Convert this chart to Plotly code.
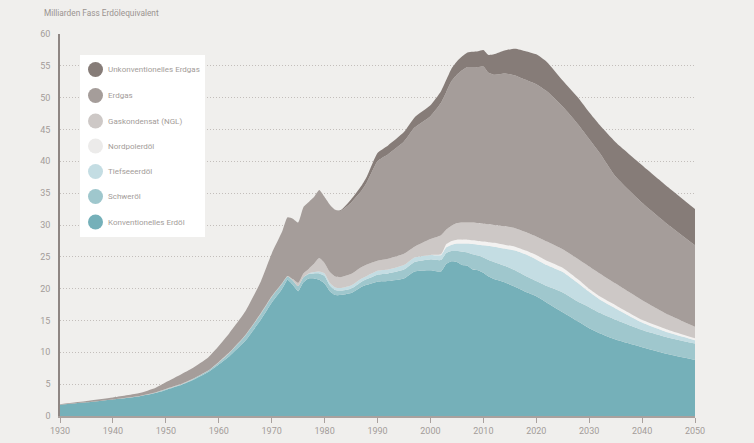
import plotly.graph_objects as go

years = [1930, 1935, 1940, 1945, 1948, 1950, 1953, 1955, 1958, 1960, 1962, 1965, 1968, 1970,
         1972, 1973, 1974, 1975, 1976, 1977, 1978, 1979, 1980, 1981, 1982, 1983, 1985, 1987,
         1988, 1990, 1992, 1995, 1997, 2000, 2002, 2003, 2004, 2005, 2006, 2007, 2008, 2009,
         2010, 2011, 2012, 2014, 2016, 2018, 2020, 2022, 2025, 2028, 2030, 2032, 2035, 2040,
         2045, 2050]

konventionelles_erdoel = [1.75, 2.15, 2.60, 3.10, 3.60, 4.10, 4.90, 5.60, 6.90, 8.10, 9.40, 11.80, 15.20, 17.80,
                          20.00, 21.40, 20.60, 19.60, 21.00, 21.60, 21.60, 21.40, 20.80, 19.60, 19.00, 19.00, 19.30, 20.30,
                          20.60, 21.10, 21.20, 21.60, 22.70, 22.90, 22.70, 23.90, 24.30, 24.20, 23.70, 23.60, 23.00, 22.90,
                          22.50, 21.90, 21.50, 21.00, 20.30, 19.50, 18.80, 17.80, 16.30, 14.80, 13.80, 13.00, 12.00, 10.80,
                          9.70, 8.80]
schweroel = [0, 0, 0, 0, 0.05, 0.10, 0.10, 0.15, 0.20, 0.30, 0.50, 0.80, 0.90, 0.90,
             0.80, 0.50, 0.70, 0.80, 0.80, 0.70, 0.80, 1.00, 1.20, 0.90, 0.80, 0.70, 0.70, 0.80,
             0.90, 1.10, 1.20, 1.40, 1.50, 1.70, 1.80, 1.70, 1.60, 1.70, 2.10, 2.10, 2.40, 2.30,
             2.40, 2.60, 2.70, 2.60, 2.60, 2.50, 2.40, 2.60, 3.10, 3.10, 3.30, 3.20, 3.10, 2.70,
             2.60, 2.60]
tiefseeoel = [0, 0, 0, 0, 0, 0, 0, 0, 0, 0, 0, 0, 0, 0,
              0, 0, 0, 0, 0, 0.10, 0.20, 0.30, 0.40, 0.40, 0.40, 0.40, 0.50, 0.50,
              0.50, 0.60, 0.60, 0.70, 0.70, 0.70, 0.80, 0.90, 1.00, 1.20, 1.30, 1.40, 1.60, 1.70,
              1.90, 2.20, 2.40, 2.70, 3.10, 3.40, 3.40, 3.30, 3.20, 2.90, 2.40, 2.10, 1.80, 1.20,
              0.80, 0.50]
nordpoloel = [0, 0, 0, 0, 0, 0, 0, 0, 0, 0, 0, 0, 0, 0,
              0, 0, 0, 0, 0, 0, 0, 0, 0, 0, 0, 0, 0, 0,
              0, 0, 0, 0, 0, 0, 0.10, 0.50, 0.60, 0.60, 0.60, 0.60, 0.60, 0.60,
              0.60, 0.60, 0.60, 0.60, 0.60, 0.60, 0.70, 0.70, 0.70, 0.60, 0.50, 0.50, 0.50, 0.40,
              0.40, 0.30]
gaskondensat = [0, 0, 0, 0.05, 0.05, 0.05, 0.05, 0.05, 0.05, 0.10, 0.10, 0.10, 0.10, 0.10,
                0.10, 0.10, 0.20, 0.50, 0.60, 0.70, 1.30, 2.10, 1.60, 1.70, 1.70, 1.70, 1.80, 1.80,
                1.80, 1.60, 1.70, 1.80, 1.70, 2.50, 3.00, 2.30, 2.40, 2.60, 2.70, 2.70, 2.80, 2.80,
                2.80, 2.80, 2.80, 2.90, 2.90, 2.90, 2.90, 3.00, 2.90, 3.20, 3.50, 3.60, 3.40, 3.10,
                2.40, 1.80]
erdgas = [0.10, 0.20, 0.30, 0.45, 0.70, 1.05, 1.55, 1.70, 2.05, 2.50, 3.00, 3.70, 5.00, 6.70,
          8.10, 9.20, 9.50, 9.50, 10.40, 10.50, 10.50, 10.70, 10.40, 10.60, 10.50, 10.40, 11.20, 12.00,
          12.90, 15.60, 16.40, 17.60, 18.70, 19.30, 20.80, 21.60, 22.70, 23.30, 23.90, 24.40, 24.40, 24.50,
          24.70, 23.80, 23.60, 24.00, 24.00, 23.90, 23.90, 23.60, 22.40, 21.10, 20.00, 18.90, 16.80, 15.30,
          14.10, 12.80]
unkonv_erdgas = [0, 0, 0, 0, 0, 0, 0, 0, 0, 0, 0, 0, 0, 0,
                 0, 0, 0, 0, 0, 0, 0, 0, 0, 0, 0, 0.10, 0.50, 0.80,
                 0.90, 1.30, 1.40, 1.50, 1.60, 1.70, 1.80, 1.90, 2.00, 2.10, 2.20, 2.30, 2.40, 2.50,
                 2.60, 2.80, 3.20, 3.60, 4.20, 4.50, 4.70, 4.60, 4.10, 4.20, 4.20, 4.40, 5.40, 5.90,
                 5.90, 5.70]

series_names = ["Konventionelles Erdöl", "Schweröl", "Tiefseeerdöl", "Nordpolerdöl",
                "Gaskondensat (NGL)", "Erdgas", "Unkonventionelles Erdgas"]
series_values = [konventionelles_erdoel, schweroel, tiefseeoel, nordpoloel,
                 gaskondensat, erdgas, unkonv_erdgas]
colors = ["#75b0b9", "#9fc7cd", "#c4dde3", "#f3f2f1", "#cdc8c6", "#a59d9a", "#867c78"]

x_ticks = [1930, 1940, 1950, 1960, 1970, 1980, 1990, 2000, 2010, 2020, 2030, 2040, 2050]
y_ticks = [0, 5, 10, 15, 20, 25, 30, 35, 40, 45, 50, 55, 60]

FONT = "Roboto"
TXT = "#a39c99"

fig = go.Figure()
for name, vals, col in zip(series_names, series_values, colors):
    fig.add_trace(go.Scatter(
        x=years, y=vals, name=name, stackgroup="one", mode="lines",
        line=dict(width=0, shape="spline", smoothing=0.5, color=col),
        fillcolor=col, showlegend=False, hoverinfo="x+y+name"))

# Legend drawn as a white box with round swatches
L_left, L_right = (80 - 60) / 635, (205 - 60) / 635
L_top, L_bottom = (416 - 55) / 382, (416 - 237) / 382
shapes = [dict(type="rect", xref="paper", yref="paper", x0=L_left, x1=L_right,
               y0=L_bottom, y1=L_top, fillcolor="white", line=dict(width=0), layer="above")]
annotations = []
legend_rows_px = [69.5, 95.5, 121, 146, 171.5, 196.5, 222]
for i, (name, col) in enumerate(zip(reversed(series_names), reversed(colors))):
    cy = (416 - legend_rows_px[i]) / 382
    cx = (95.5 - 60) / 635
    shapes.append(dict(type="circle", xref="paper", yref="paper", xsizemode="pixel", ysizemode="pixel",
                       xanchor=cx, yanchor=cy, x0=-7.5, x1=7.5, y0=-7.5, y1=7.5,
                       fillcolor=("#ecebea" if name == "Nordpolerdöl" else col),
                       line=dict(width=0), layer="above"))
    annotations.append(dict(xref="paper", yref="paper", x=(106 - 60) / 635, y=cy, text=name,
                            showarrow=False, xanchor="left", yanchor="middle",
                            font=dict(family=FONT, size=8, color=TXT)))

annotations.append(dict(xref="paper", yref="paper", x=(42 - 60) / 635, y=(416 - 13) / 382,
                        text="Milliarden Fass Erdölequivalent", showarrow=False,
                        xanchor="left", yanchor="middle",
                        font=dict(family=FONT, size=8.3, color="#9a9390")))

fig.update_layout(
    width=754, height=443, autosize=False,
    margin=dict(l=60, r=59, t=34, b=27, pad=0),
    paper_bgcolor="#f0efed", plot_bgcolor="#f0efed",
    font=dict(family=FONT, size=9, color=TXT),
    shapes=shapes, annotations=annotations, showlegend=False,
    xaxis=dict(range=[1930, 2050], tickvals=x_ticks, ticktext=[str(t) for t in x_ticks],
               showgrid=False, zeroline=False, showline=True, linecolor="#a9a19e", linewidth=1.5,
               ticks="outside", ticklen=5, tickcolor="#a9a19e", tickwidth=1, automargin=False,
               tickfont=dict(family=FONT, size=9, color=TXT)),
    yaxis=dict(range=[0, 60], tickvals=y_ticks, showgrid=True, gridcolor="#c3bebb", griddash="1px,2px",
               gridwidth=1, zeroline=False, showline=True, linecolor="#8e8683", linewidth=1.5,
               ticks="", ticklabelstandoff=6, automargin=False,
               tickfont=dict(family=FONT, size=9, color=TXT)),
)

fig.write_html("out.html", config={"displayModeBar": False},
               post_script="document.body.style.margin='0';document.body.style.background='#f0efed';")
